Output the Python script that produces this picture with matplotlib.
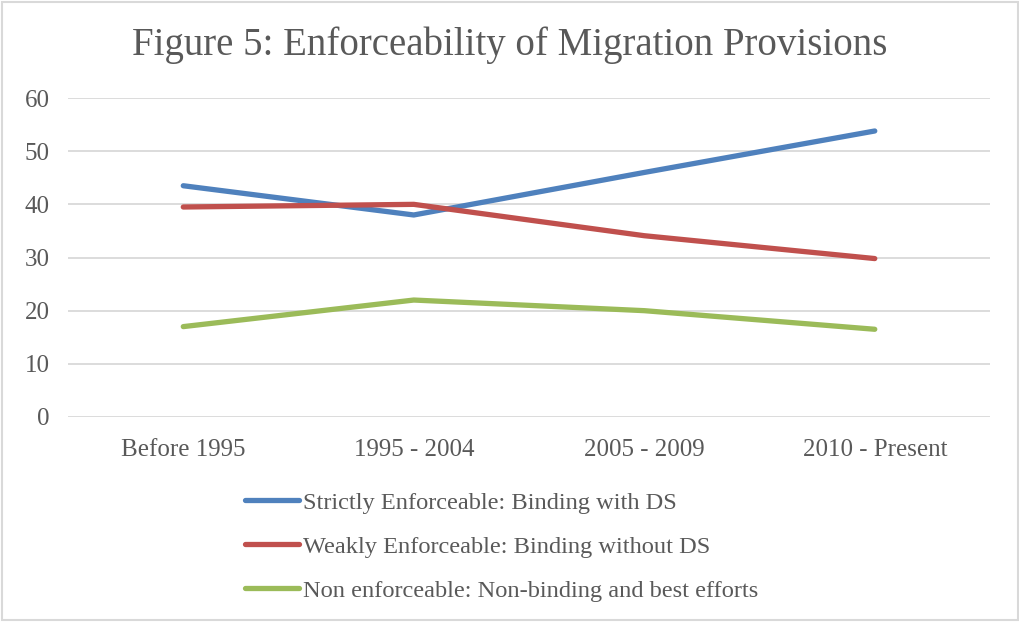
import matplotlib
matplotlib.use("Agg")
import matplotlib.pyplot as plt

# data
periods = ["Before 1995", "1995 - 2004", "2005 - 2009", "2010 - Present"]
strict = [43.5, 38.0, 46.0, 53.8]
weak = [39.5, 40.0, 34.1, 29.8]
non_enf = [17.0, 22.0, 20.0, 16.5]
labels = ["Strictly Enforceable: Binding with DS",
          "Weakly Enforceable: Binding without DS",
          "Non enforceable: Non-binding and best efforts"]
colors = ["#4F81BD", "#C0504D", "#9BBB59"]

plt.rcParams['font.family'] = ['Liberation Serif', 'DejaVu Serif']
txt = "#595959"

fig = plt.figure(figsize=(10.2, 6.22), dpi=100)
ax = fig.add_axes([0.0667, 0.3296, 0.9039, 0.5128])

x = range(len(periods))
for ys, lab, c in zip([strict, weak, non_enf], labels, colors):
    ax.plot(x, ys, color=c, lw=3.8, label=lab, solid_capstyle='round')

ax.set_xlim(-0.5, len(periods) - 0.5)
ax.set_ylim(0, 60)
ax.set_yticks(range(0, 61, 10))
ax.set_xticks(list(x))
ax.set_xticklabels(periods)
ax.grid(axis='y', color='#D9D9D9', lw=1.3)
ax.set_axisbelow(True)
for s in ax.spines.values():
    s.set_visible(False)
ax.tick_params(length=0, labelsize=18, colors=txt)
ax.tick_params(axis='x', pad=16)
ax.tick_params(axis='y', pad=13)

fig.text(0.5, 0.927, "Figure 5: Enforceability of Migration Provisions",
         ha='center', va='center', fontsize=28, color=txt)

leg = fig.legend(loc='upper left', bbox_to_anchor=(0.219, 0.245), frameon=False,
                 fontsize=17.6, handlelength=2.2, handletextpad=0.15, labelspacing=0.9)
for t in leg.get_texts():
    t.set_color(txt)

fig.patches.append(plt.Rectangle((0.002, 0.003), 0.996, 0.994, transform=fig.transFigure,
                                 fill=False, edgecolor='#D9D9D9', lw=1.5))

fig.savefig("out.png", dpi=100, facecolor='white')
